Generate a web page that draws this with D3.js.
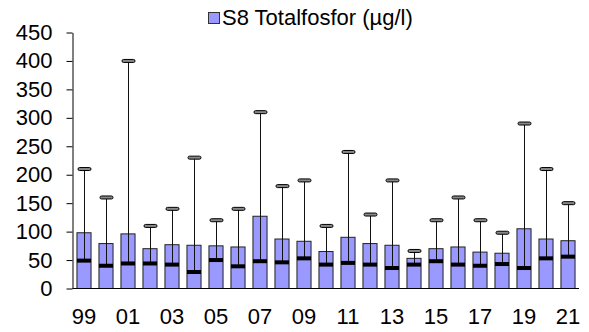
<!DOCTYPE html>
<html>
<head>
<meta charset="utf-8">
<script src="https://cdn.jsdelivr.net/npm/d3@7"></script>
<style>
  html, body { margin: 0; padding: 0; background: #fff; }
  svg { display: block; font-family: Arial, "Liberation Sans", sans-serif; }
</style>
</head>
<body>
<svg id="chart" width="589" height="332"></svg>
<script>
// Total phosphorus at station S8, 1999–2021 (µg/l)
const years   = ["99","00","01","02","03","04","05","06","07","08","09","10","11","12","13","14","15","16","17","18","19","20","21"];
const means   = [98, 79, 96, 70, 77, 76, 75, 73, 127, 87, 83, 65, 90, 79, 76, 53, 70, 73, 64, 62, 105, 87, 84];
const medians = [49, 40, 44, 44, 42, 29, 50, 39, 48, 46, 53, 42, 45, 42, 36, 42, 48, 42, 40, 43, 36, 53, 56];
const maxima  = [210, 160, 400, 110, 140, 230, 120, 140, 310, 180, 190, 110, 240, 130, 190, 66, 120, 160, 120, 98, 290, 210, 150];
const yTicks  = [0, 50, 100, 150, 200, 250, 300, 350, 400, 450];
const seriesName = "S8 Totalfosfor (µg/l)";

const FONT = 22;
const svg = d3.select("#chart");

const x = d3.scaleBand()
  .domain(years)
  .range([73, 579])
  .paddingInner(0.36)
  .paddingOuter(0.18);

const y = d3.scaleLinear()
  .domain([0, 450])
  .range([288.5, 32.5]);

const data = years.map((yr, i) => ({ yr, mean: means[i], median: medians[i], max: maxima[i] }));
const bw = x.bandwidth();
const cx = d => Math.round(x(d.yr) + bw / 2) + 0.5;

// mean bars
svg.append("g").selectAll("rect")
  .data(data).join("rect")
  .attr("x", d => x(d.yr))
  .attr("y", d => y(d.mean))
  .attr("width", bw)
  .attr("height", d => y(0) - y(d.mean))
  .attr("fill", "#9999ff")
  .attr("stroke", "#222")
  .attr("stroke-width", 1);

// whiskers from median to maximum
svg.append("g").selectAll("line")
  .data(data).join("line")
  .attr("x1", cx).attr("x2", cx)
  .attr("y1", d => y(d.median))
  .attr("y2", d => y(d.max))
  .attr("stroke", "#111")
  .attr("stroke-width", 1);

// median markers
svg.append("g").selectAll("rect")
  .data(data).join("rect")
  .attr("x", d => x(d.yr))
  .attr("y", d => y(d.median) - 2)
  .attr("width", bw)
  .attr("height", 4)
  .attr("fill", "#000");

// maximum caps
svg.append("g").selectAll("rect")
  .data(data).join("rect")
  .attr("x", d => cx(d) - 6.5)
  .attr("y", d => y(d.max) - 1.5)
  .attr("width", 13)
  .attr("height", 3)
  .attr("rx", 1.5)
  .attr("fill", "#888")
  .attr("stroke", "#000")
  .attr("stroke-width", 1);

// y axis
const yAxis = svg.append("g")
  .attr("transform", "translate(72.5,0)")
  .call(d3.axisLeft(y).tickValues(yTicks).tickSize(6).tickPadding(14).tickSizeOuter(0));
yAxis.select(".domain").attr("stroke", "#000");
yAxis.selectAll(".tick line").attr("stroke", "#000");
yAxis.selectAll(".tick text")
  .attr("font-size", FONT)
  .attr("font-family", "Arial, 'Liberation Sans', sans-serif")
  .attr("fill", "#000");

// x axis: baseline line and every second year label
const xAxis = svg.append("g")
  .attr("transform", "translate(0,288.5)")
  .call(d3.axisBottom(x).tickSize(0).tickPadding(20).tickSizeOuter(0)
    .tickFormat((d, i) => (i % 2 === 0 ? d : "")));
xAxis.select(".domain").attr("stroke", "#000").attr("d", "M72.5,0H579");
xAxis.selectAll(".tick text")
  .attr("font-size", FONT)
  .attr("font-family", "Arial, 'Liberation Sans', sans-serif")
  .attr("fill", "#000");

// legend
const legend = svg.append("g").attr("transform", "translate(208,12)");
legend.append("rect")
  .attr("x", 0.5).attr("y", 0.5)
  .attr("width", 11).attr("height", 11)
  .attr("fill", "#9999ff")
  .attr("stroke", "#333");
legend.append("text")
  .attr("x", 14).attr("y", 13)
  .attr("font-size", FONT)
  .attr("fill", "#000")
  .text(seriesName);
</script>
</body>
</html>
